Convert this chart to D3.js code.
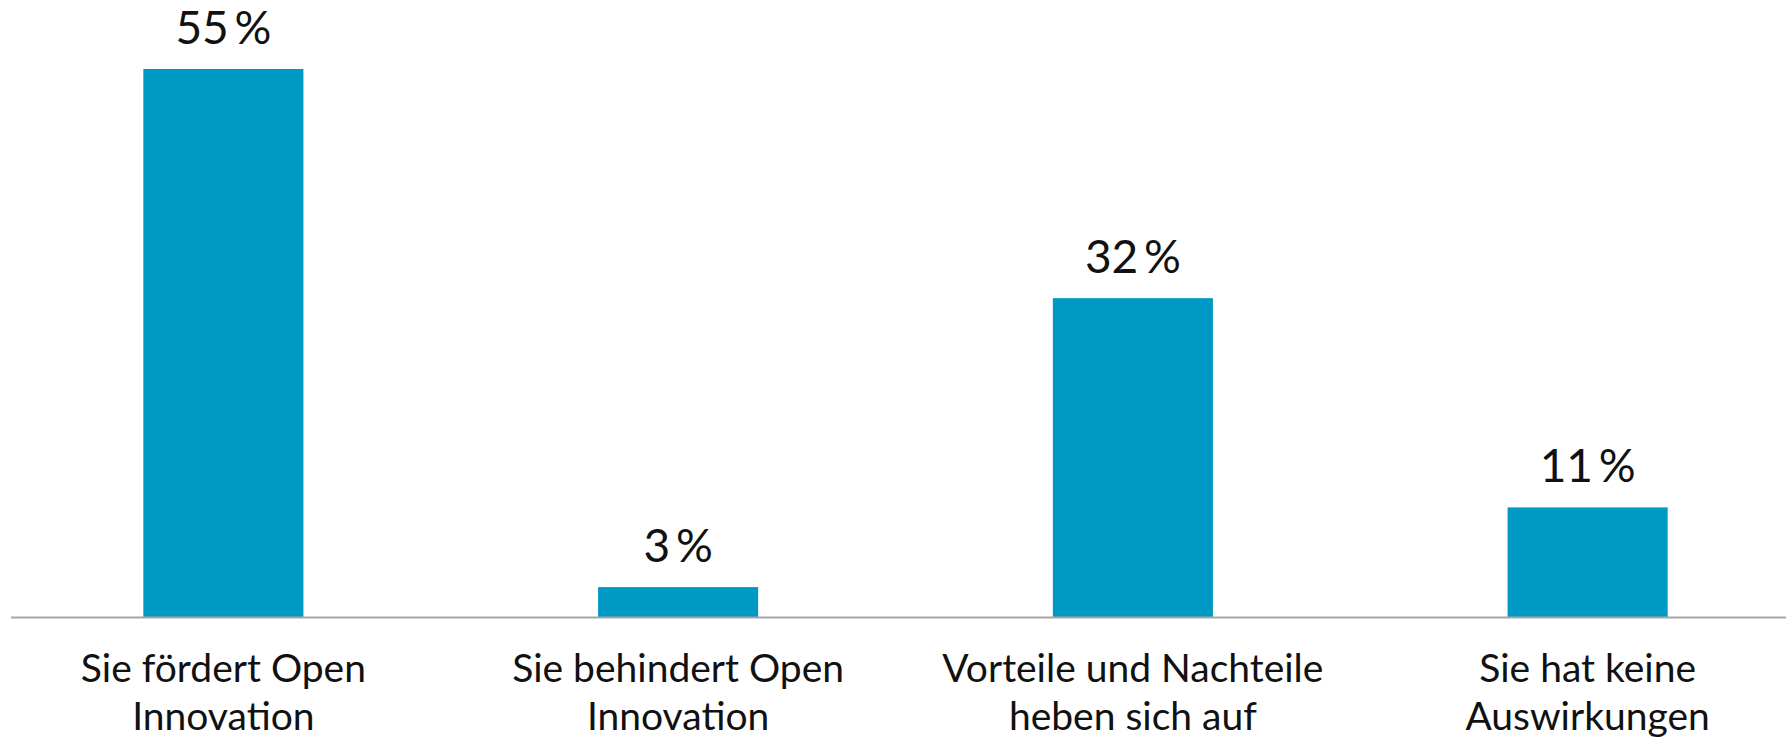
<!DOCTYPE html>
<html>
<head>
<meta charset="utf-8">
<script src="https://cdn.jsdelivr.net/npm/d3@7"></script>
<style>
  body { margin: 0; background: #fff; }
  svg { display: block; font-family: Lato, "Open Sans", sans-serif; }
</style>
</head>
<body>
<svg id="chart" width="1786" height="740"></svg>
<script>
const categories = [
  "Sie fördert Open Innovation",
  "Sie behindert Open Innovation",
  "Vorteile und Nachteile heben sich auf",
  "Sie hat keine Auswirkungen",
];
// each label is broken in two lines, as in the original
const labelLines = [
  ["Sie fördert Open", "Innovation"],
  ["Sie behindert Open", "Innovation"],
  ["Vorteile und Nachteile", "heben sich auf"],
  ["Sie hat keine", "Auswirkungen"],
];
const values = [55, 3, 32, 11];

const svg = d3.select("#chart");
const barColor = "#0099c4";
const baseY = 617;

const x = d3
  .scaleBand()
  .domain(categories)
  .range([-4, 1815])
  .paddingInner(0.648)
  .paddingOuter(0.324);

const y = d3.scaleLinear().domain([0, 55]).range([baseY, 69]);

const data = categories.map((c, i) => ({ cat: c, value: values[i], lines: labelLines[i] }));

// bars
svg
  .append("g")
  .attr("class", "bars")
  .selectAll("rect")
  .data(data)
  .join("rect")
  .attr("x", (d) => x(d.cat))
  .attr("y", (d) => y(d.value))
  .attr("width", x.bandwidth())
  .attr("height", (d) => y(0) - y(d.value))
  .attr("fill", barColor);

// baseline
svg
  .append("line")
  .attr("x1", 11)
  .attr("x2", 1786)
  .attr("y1", baseY + 0.5)
  .attr("y2", baseY + 0.5)
  .attr("stroke", "#a6a6a6")
  .attr("stroke-width", 2);

// value labels
svg
  .append("g")
  .attr("class", "values")
  .selectAll("text")
  .data(data)
  .join("text")
  .attr("x", (d) => x(d.cat) + x.bandwidth() / 2)
  .attr("y", (d) => y(d.value) - 25)
  .attr("text-anchor", "middle")
  .attr("font-size", 46)
  .attr("fill", "#111")
  .text((d) => d.value + "\u2009%");

// category labels
const cats = svg
  .append("g")
  .attr("class", "categories")
  .selectAll("text")
  .data(data)
  .join("text")
  .attr("text-anchor", "middle")
  .attr("font-size", 39)
  .attr("fill", "#111");

cats
  .selectAll("tspan")
  .data((d) => d.lines.map((l) => ({ line: l, cx: x(d.cat) + x.bandwidth() / 2 })))
  .join("tspan")
  .attr("x", (d) => d.cx)
  .attr("y", (d, i) => 682 + i * 48)
  .text((d) => d.line);
</script>
</body>
</html>
